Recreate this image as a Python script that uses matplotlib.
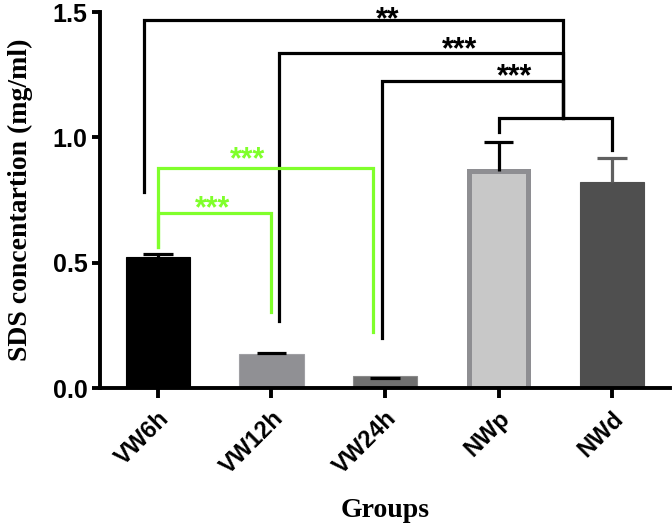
import matplotlib
matplotlib.use('Agg')
from matplotlib import pyplot as plt

groups = ['VW6h', 'VW12h', 'VW24h', 'NWp', 'NWd']
means = [0.524, 0.136, 0.049, 0.866, 0.821]
err_top = [0.536, 0.141, 0.040, 0.98, 0.917]
fills = ['#000000', '#909094', '#707070', '#c8c8c8', '#4f4f4f']
edges = ['#000000', '#a0a0a4', '#8a8a8a', '#8e8e92', '#4f4f4f']
edge_w = [0.8, 0.8, 0.8, 3.6, 0.8]
widths = [0.57, 0.57, 0.57, 0.52, 0.57]
err_cols = ['#000000', '#000000', '#000000', '#000000', '#606060']

# significance brackets: (x_left, left_bottom, y_top, x_right, right_bottom, stars, star_x, star_y)
black_br = [(-0.12, 0.78, 1.468, 3.57, 1.076, '**', 2.02, 1.501),
            (1.07, 0.268, 1.336, 3.57, 1.076, '***', 2.66, 1.38),
            (1.97, 0.20, 1.224, 3.57, 1.076, '***', 3.14, 1.272)]
green_br = [(0.0, 0.564, 0.876, 1.89, 0.224, '***', 0.79, 0.94),
            (0.0, 0.564, 0.70, 1.0, 0.304, '***', 0.485, 0.744)]
sub_br = (3.0, 1.02, 1.076, 4.0, 0.95)

green = '#80ff2b'
sans = 'Liberation Sans'
serif = 'Liberation Serif'

fig = plt.figure(figsize=(6.72, 5.26), dpi=100)
ax = fig.add_axes([100 / 672, 1 - 388 / 526, 570 / 672, 376 / 526])

x = list(range(len(groups)))
for i in x:
    ax.bar(i, means[i], width=widths[i], color=fills[i], edgecolor=edges[i],
           linewidth=edge_w[i], zorder=2)
    lo = min(means[i], err_top[i])
    ax.vlines(i, lo, err_top[i], color=err_cols[i], lw=2.3, zorder=3)
    ax.hlines(err_top[i], i - 0.13, i + 0.13, color=err_cols[i], lw=2.3, zorder=3)


def bracket(b, col):
    xl, yl, yt, xr, yr, s, sx, sy = b
    ax.plot([xl, xl, xr, xr], [yl, yt, yt, yr], color=col, lw=2.3,
            solid_joinstyle='miter', clip_on=False, zorder=4)
    ax.text(sx, sy - 0.064, s, color=col, fontsize=22, fontweight='bold',
            family=sans, ha='center', va='baseline', clip_on=False)


for b in black_br:
    bracket(b, 'black')
for b in green_br:
    bracket(b, green)
xl, yl, yt, xr, yr = sub_br
ax.plot([xl, xl, xr, xr], [yl, yt, yt, yr], color='black', lw=2.3,
        solid_joinstyle='miter', zorder=4)

ax.set_xlim(-0.51, 4.51)
ax.set_ylim(0, 1.5)
ax.set_yticks([0.0, 0.5, 1.0, 1.5])
ax.set_yticklabels(['0.0', '0.5', '1.0', '1.5'])
ax.set_xticks(x)
ax.set_xticklabels(groups, rotation=45, ha='right', va='top', rotation_mode='anchor')
for lab in ax.get_yticklabels():
    lab.set_family(sans)
    lab.set_fontweight('bold')
    lab.set_fontsize(18)
for lab in ax.get_xticklabels():
    lab.set_family(sans)
    lab.set_fontweight('bold')
    lab.set_fontsize(17)

for s in ['top', 'right']:
    ax.spines[s].set_visible(False)
for s in ['left', 'bottom']:
    ax.spines[s].set_linewidth(2.8)
ax.tick_params(axis='y', width=2.8, length=6, direction='out', pad=3)
ax.tick_params(axis='x', width=2.8, length=7.5, direction='out', pad=6)

ax.set_ylabel('SDS concentartion (mg/ml)', family=serif, fontweight='bold',
              fontsize=20, labelpad=14)
ax.set_xlabel('Groups', family=serif, fontweight='bold', fontsize=20, labelpad=14)

fig.savefig('out.png', dpi=100)
